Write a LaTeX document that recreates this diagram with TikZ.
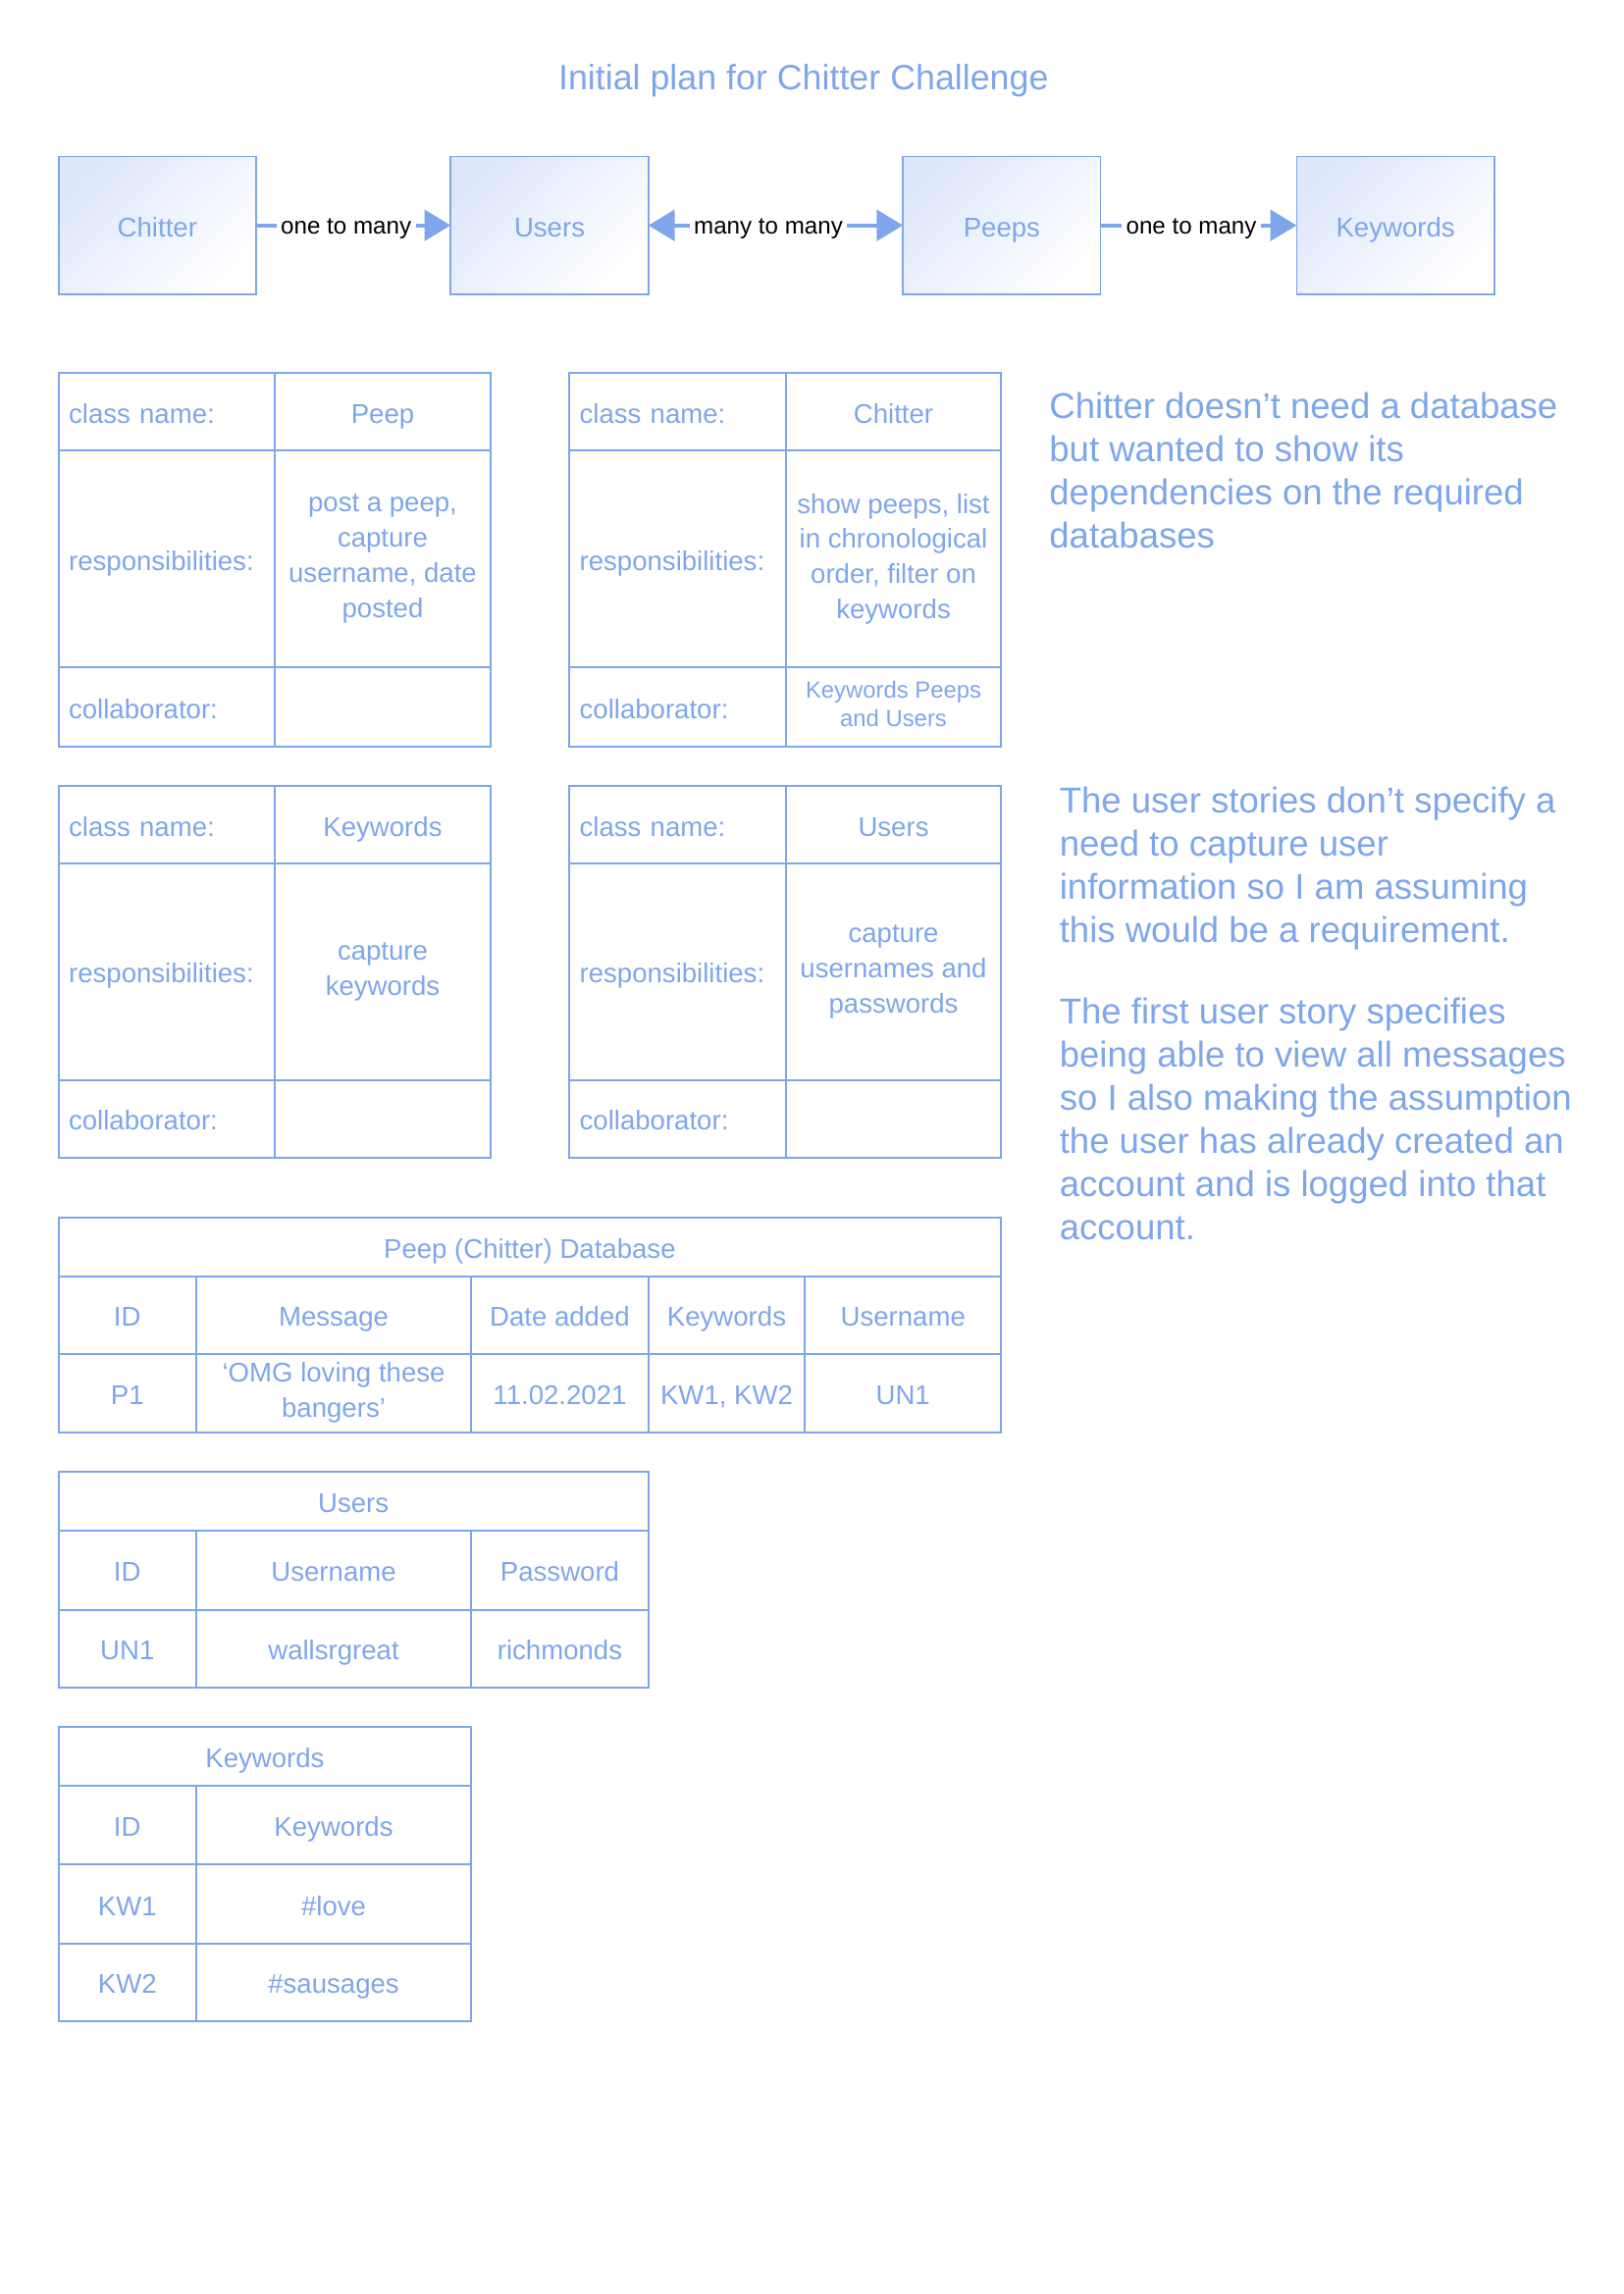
\documentclass[tikz,border=0pt]{standalone}
\usepackage{fontspec}
\setmainfont{Liberation Sans}
\setsansfont{Liberation Sans}
\usetikzlibrary{positioning,arrows.meta}
\definecolor{chblue}{RGB}{126,166,235}
\definecolor{chfill}{RGB}{222,231,252}
\newcommand{\cellstrut}{\rule[-4pt]{0pt}{23.6pt}}
\begin{document}
\begin{tikzpicture}[x=1pt, y=-1pt,
    every node/.style={text=chblue, inner sep=0pt, outer sep=0pt},
    main node/.style={draw=chblue, line width=1.2pt, minimum width=135pt, minimum height=94pt, top color=chfill, bottom color=white, shading angle=45, font=\fontsize{18.5}{22}\selectfont, execute at begin node=\cellstrut},
    link/.style={draw=chblue, line width=2.8pt, -{Triangle[length=18pt,width=21pt]}},
    both/.style={link, {Triangle[length=18pt,width=21pt]}-{Triangle[length=18pt,width=21pt]}},
    rel/.style={fill=white, text=black, inner sep=3pt, xshift=-5pt, yshift=-2.5pt, font=\fontsize{16.2}{19}\selectfont},
    cell/.style={draw=chblue, line width=1.3pt, align=center, font=\fontsize{18.5}{24}\selectfont, execute at begin node=\cellstrut, execute at end node=\cellstrut},
    lcell/.style={cell, text width=134pt, inner xsep=7pt, minimum width=148pt, align=left},
    note/.style={align=left, font=\fontsize{24.5}{29.5}\selectfont}]
    \useasboundingbox (0,0) rectangle (1109,1567.6);
    \node[font=\fontsize{24}{29}\selectfont] (title) at (549,55) {Initial plan for Chitter Challenge};
    \node[main node, anchor=north west] (chitter) at (40,107) {Chitter};
    \node[main node, right=133pt of chitter] (users) {Users};
    \node[main node, right=174pt of users] (peeps) {Peeps};
    \node[main node, right=134pt of peeps] (keywords) {Keywords};
    \draw[link] (chitter) -- node[rel] {one to many} (users);
    \draw[both] (users) -- node[rel] {many to many} (peeps);
    \draw[link] (peeps) -- node[rel] {one to many} (keywords);

    \node[lcell, minimum height=53pt, anchor=north west] (peepname) at (40,255) {class name:};
    \node[cell, minimum width=147pt, minimum height=53pt, right=0pt of peepname] (peepclass) {Peep};
    \node[lcell, minimum height=148pt, below=0pt of peepname] (peepresp) {responsibilities:};
    \node[cell, minimum width=147pt, minimum height=148pt, right=0pt of peepresp] (peepresptext) {post a peep,\\capture\\username, date\\posted};
    \node[lcell, minimum height=54pt, below=0pt of peepresp] (peepcollab) {collaborator:};
    \node[cell, minimum width=147pt, minimum height=54pt, right=0pt of peepcollab] (peepcollabtext) {};

    \node[lcell, minimum height=53pt, anchor=north west] (chittername) at (389,255) {class name:};
    \node[cell, minimum width=147pt, minimum height=53pt, right=0pt of chittername] (chitterclass) {Chitter};
    \node[lcell, minimum height=148pt, below=0pt of chittername] (chitterresp) {responsibilities:};
    \node[cell, minimum width=147pt, minimum height=148pt, right=0pt of chitterresp] (chitterresptext) {show peeps, list\\in chronological\\order, filter on\\keywords};
    \node[lcell, minimum height=54pt, below=0pt of chitterresp] (chittercollab) {collaborator:};
    \node[cell, minimum width=147pt, minimum height=54pt, right=0pt of chittercollab, font=\fontsize{16}{20}\selectfont] (chittercollabtext) {Keywords Peeps\\and Users};

    \node[lcell, minimum height=53pt, anchor=north west] (kwname) at (40,537) {class name:};
    \node[cell, minimum width=147pt, minimum height=53pt, right=0pt of kwname] (kwclass) {Keywords};
    \node[lcell, minimum height=148pt, below=0pt of kwname] (kwresp) {responsibilities:};
    \node[cell, minimum width=147pt, minimum height=148pt, right=0pt of kwresp] (kwresptext) {capture\\keywords};
    \node[lcell, minimum height=53pt, below=0pt of kwresp] (kwcollab) {collaborator:};
    \node[cell, minimum width=147pt, minimum height=53pt, right=0pt of kwcollab] (kwcollabtext) {};

    \node[lcell, minimum height=53pt, anchor=north west] (username) at (389,537) {class name:};
    \node[cell, minimum width=147pt, minimum height=53pt, right=0pt of username] (userclass) {Users};
    \node[lcell, minimum height=148pt, below=0pt of username] (userresp) {responsibilities:};
    \node[cell, minimum width=147pt, minimum height=148pt, right=0pt of userresp] (userresptext) {capture\\usernames and\\passwords};
    \node[lcell, minimum height=53pt, below=0pt of userresp] (usercollab) {collaborator:};
    \node[cell, minimum width=147pt, minimum height=53pt, right=0pt of usercollab] (usercollabtext) {};

    \node[cell, minimum width=644pt, minimum height=40pt, anchor=north west] (peepdb) at (40,832) {Peep (Chitter) Database};
    \node[cell, minimum width=94pt, minimum height=53pt, anchor=north west] (pdbid) at (peepdb.south west) {ID};
    \node[cell, minimum width=188pt, minimum height=53pt, right=0pt of pdbid] (pdbmsg) {Message};
    \node[cell, minimum width=121pt, minimum height=53pt, right=0pt of pdbmsg] (pdbdate) {Date added};
    \node[cell, minimum width=107pt, minimum height=53pt, right=0pt of pdbdate] (pdbkw) {Keywords};
    \node[cell, minimum width=134pt, minimum height=53pt, right=0pt of pdbkw] (pdbuser) {Username};
    \node[cell, minimum width=94pt, minimum height=54pt, below=0pt of pdbid] (pdbid1) {P1};
    \node[cell, minimum width=188pt, minimum height=54pt, below=0pt of pdbmsg] (pdbmsg1) {‘OMG loving these\\bangers’};
    \node[cell, minimum width=121pt, minimum height=54pt, below=0pt of pdbdate] (pdbdate1) {11.02.2021};
    \node[cell, minimum width=107pt, minimum height=54pt, below=0pt of pdbkw] (pdbkw1) {KW1, KW2};
    \node[cell, minimum width=134pt, minimum height=54pt, below=0pt of pdbuser] (pdbuser1) {UN1};

    \node[cell, minimum width=403pt, minimum height=40pt, anchor=north west] (userdb) at (40,1006) {Users};
    \node[cell, minimum width=94pt, minimum height=54pt, anchor=north west] (udbid) at (userdb.south west) {ID};
    \node[cell, minimum width=188pt, minimum height=54pt, right=0pt of udbid] (udbuser) {Username};
    \node[cell, minimum width=121pt, minimum height=54pt, right=0pt of udbuser] (udbpass) {Password};
    \node[cell, minimum width=94pt, minimum height=53pt, below=0pt of udbid] (udbid1) {UN1};
    \node[cell, minimum width=188pt, minimum height=53pt, below=0pt of udbuser] (udbuser1) {wallsrgreat};
    \node[cell, minimum width=121pt, minimum height=53pt, below=0pt of udbpass] (udbpass1) {richmonds};

    \node[cell, minimum width=282pt, minimum height=40pt, anchor=north west] (kwdb) at (40,1180) {Keywords};
    \node[cell, minimum width=94pt, minimum height=54pt, anchor=north west] (kdbid) at (kwdb.south west) {ID};
    \node[cell, minimum width=188pt, minimum height=54pt, right=0pt of kdbid] (kdbkw) {Keywords};
    \node[cell, minimum width=94pt, minimum height=54pt, below=0pt of kdbid] (kdbid1) {KW1};
    \node[cell, minimum width=188pt, minimum height=54pt, below=0pt of kdbkw] (kdbkw1) {\#love};
    \node[cell, minimum width=94pt, minimum height=53pt, below=0pt of kdbid1] (kdbid2) {KW2};
    \node[cell, minimum width=188pt, minimum height=53pt, below=0pt of kdbkw1] (kdbkw2) {\#sausages};

    \node[note, anchor=north west] (dbnote) at (717,268) {Chitter doesn’t need a database\\but wanted to show its\\dependencies on the required\\databases};
    \node[note, anchor=north west] (usernote) at (724,538) {The user stories don’t specify a\\need to capture user\\information so I am assuming\\this would be a requirement.};
    \node[note, anchor=north west] (storynote) at (724,682) {The first user story specifies\\being able to view all messages\\so I also making the assumption\\the user has already created an\\account and is logged into that\\account.};
\end{tikzpicture}
\end{document}
